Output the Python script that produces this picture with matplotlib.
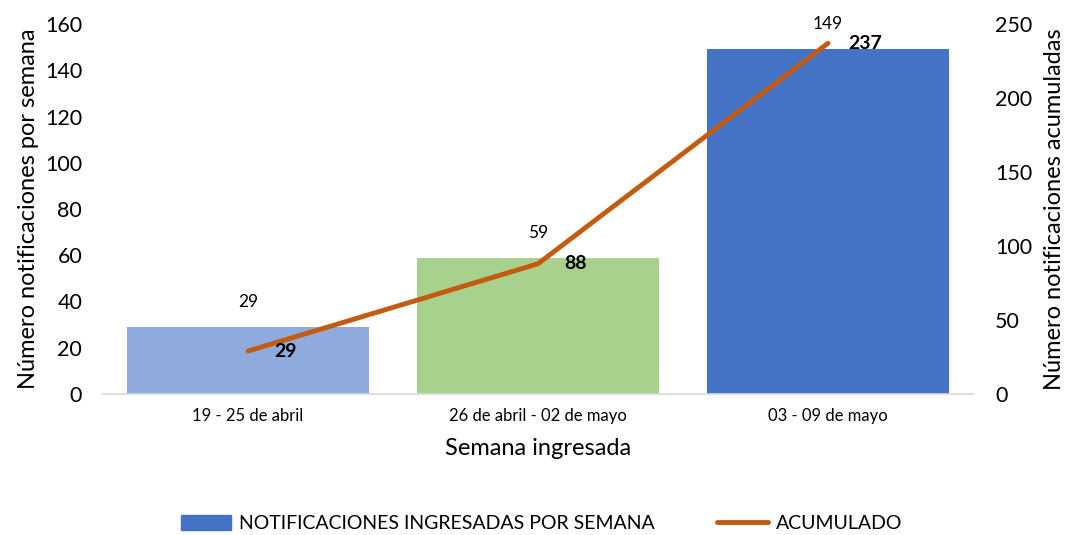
import matplotlib.pyplot as plt
import numpy as np
from matplotlib.patches import Patch

plt.rcParams['font.family'] = ['Lato', 'DejaVu Sans']

semanas = ['19 - 25 de abril', '26 de abril - 02 de mayo', '03 - 09 de mayo']
por_semana = [29, 59, 149]
acumulado = [29, 88, 237]
colores = ['#8FAADC', '#A9D18E', '#4472C4']

x = np.arange(len(semanas))

fig = plt.figure(figsize=(10.72, 5.35), dpi=100)
ax = fig.add_axes([0.0961, 0.2636, 0.8115, 0.6915])
ax2 = ax.twinx()

bars = ax.bar(x, por_semana, width=0.835, color=colores, zorder=2)
ax.set_xlim(-0.5, 2.5)
ax.set_ylim(0, 160)
ax.set_yticks(np.arange(0, 161, 20))
ax.set_xticks(x)
ax.set_xticklabels(semanas, fontsize=12)
ax.tick_params(axis='both', length=0)
ax.tick_params(axis='y', labelsize=15.5, pad=15)
ax.tick_params(axis='x', pad=10)
for s in ['top', 'right', 'left']:
    ax.spines[s].set_visible(False)
ax.spines['bottom'].set_color('#D9D9D9')
ax.spines['bottom'].set_linewidth(1.2)
ax.set_ylabel('Número notificaciones por semana', fontsize=17, labelpad=4)
ax.set_xlabel('Semana ingresada', fontsize=17, labelpad=10)

for xi, v in zip(x, por_semana):
    ax.annotate(str(v), (xi, v), xytext=(0, 18), textcoords='offset points',
                ha='center', va='center', fontsize=12.5)

line, = ax2.plot(x, acumulado, color='#C55A11', linewidth=3.5,
                 solid_capstyle='round', zorder=3)
ax2.set_ylim(0, 250)
ax2.set_yticks(np.arange(0, 251, 50))
ax2.tick_params(axis='y', length=0, labelsize=15.5, pad=16)
for s in ['top', 'right', 'left', 'bottom']:
    ax2.spines[s].set_visible(False)
ax2.set_ylabel('Número notificaciones acumuladas', fontsize=17, labelpad=8)

for xi, v in zip(x, acumulado):
    ax2.annotate(str(v), (xi, v), xytext=(27, 0), textcoords='offset points',
                 ha='center', va='center', fontsize=14, fontweight='bold')

handles = [Patch(color='#4472C4'), line]
labels = ['NOTIFICACIONES INGRESADAS POR SEMANA', 'ACUMULADO']
fig.legend(handles, labels, loc='center', bbox_to_anchor=(0.505, 0.022),
           ncol=2, frameon=False, fontsize=14, handlelength=2.6,
           handleheight=0.8, columnspacing=3.2, handletextpad=0.4)

plt.savefig('out.png', dpi=100)
